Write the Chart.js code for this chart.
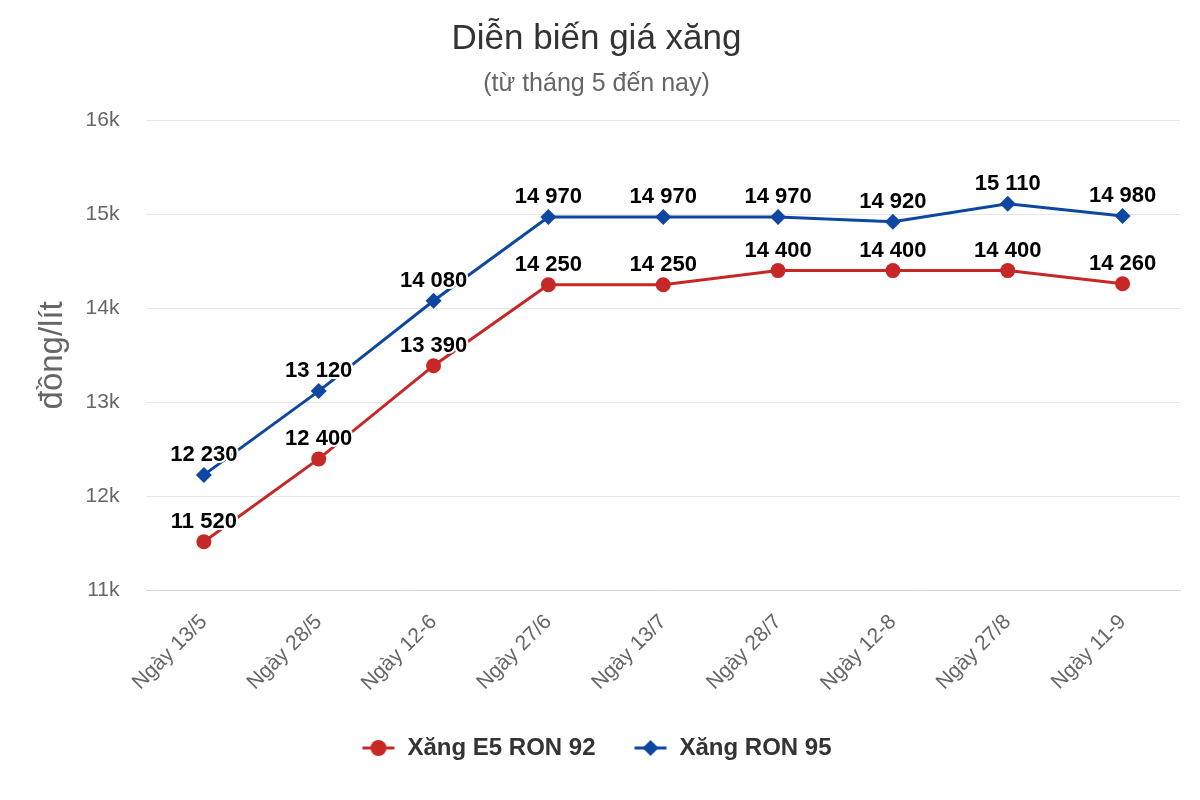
<!DOCTYPE html>
<html>
<head>
<meta charset="utf-8">
<script src="https://cdn.jsdelivr.net/npm/chart.js@4"></script>
<style>
  body { margin: 0; background: #fff; }
  #wrap { width: 1200px; height: 800px; }
</style>
</head>
<body>
<div id="wrap"><canvas id="chart" width="1200" height="800"></canvas></div>
<script>
var categories = ['Ngày 13/5', 'Ngày 28/5', 'Ngày 12-6', 'Ngày 27/6', 'Ngày 13/7', 'Ngày 28/7', 'Ngày 12-8', 'Ngày 27/8', 'Ngày 11-9'];
var e5Ron92 = [11520, 12400, 13390, 14250, 14250, 14400, 14400, 14400, 14260];
var ron95 = [12230, 13120, 14080, 14970, 14970, 14970, 14920, 15110, 14980];
var seriesNames = ['Xăng E5 RON 92', 'Xăng RON 95'];
var yTicks = [11000, 12000, 13000, 14000, 15000, 16000];

var FONT = "'Liberation Sans', Arial, sans-serif";
var RED = '#c62828';
var BLUE = '#0d47a1';

function fmt(v) {
    return String(v).replace(/\B(?=(\d{3})+(?!\d))/g, ' ');
}

// legend icon: short line with the marker in the middle
function legendIcon(color, shape) {
    var c = document.createElement('canvas');
    c.width = 34; c.height = 18;
    var g = c.getContext('2d');
    g.strokeStyle = color;
    g.lineWidth = 3;
    g.beginPath(); g.moveTo(1, 9); g.lineTo(33, 9); g.stroke();
    g.fillStyle = color;
    g.beginPath();
    if (shape === 'circle') {
        g.arc(17, 9, 8, 0, Math.PI * 2);
    } else {
        g.moveTo(17, 1); g.lineTo(25, 9); g.lineTo(17, 17); g.lineTo(9, 9); g.closePath();
    }
    g.fill();
    return c;
}

var valueLabels = {
    id: 'valueLabels',
    afterDatasetsDraw: function (chart) {
        var ctx = chart.ctx;
        ctx.save();
        ctx.font = 'bold 22px ' + FONT;
        ctx.textAlign = 'center';
        ctx.textBaseline = 'middle';
        ctx.lineJoin = 'round';
        chart.data.datasets.forEach(function (ds, i) {
            var meta = chart.getDatasetMeta(i);
            meta.data.forEach(function (pt, j) {
                var txt = fmt(ds.data[j]);
                ctx.strokeStyle = '#fff';
                ctx.lineWidth = 4;
                ctx.strokeText(txt, pt.x, pt.y - 20);
                ctx.fillStyle = '#000';
                ctx.fillText(txt, pt.x, pt.y - 20);
            });
        });
        ctx.restore();
    }
};

var ctx = document.getElementById('chart');
new Chart(ctx.getContext('2d'), {
    type: 'line',
    data: {
        labels: categories,
        datasets: [
            {
                label: seriesNames[0],
                data: e5Ron92,
                borderColor: RED,
                backgroundColor: RED,
                borderWidth: 3,
                pointStyle: 'circle',
                pointRadius: 7.5,
                pointHoverRadius: 7.5,
                pointBorderWidth: 0,
                tension: 0
            },
            {
                label: seriesNames[1],
                data: ron95,
                borderColor: BLUE,
                backgroundColor: BLUE,
                borderWidth: 3,
                pointStyle: 'rectRot',
                pointRadius: 8,
                pointHoverRadius: 8,
                pointBorderWidth: 0,
                tension: 0
            }
        ]
    },
    options: {
        responsive: false,
        animation: false,
        layout: { padding: { left: 13, right: 20, top: 10, bottom: 30 } },
        plugins: {
            title: {
                display: true,
                text: 'Diễn biến giá xăng',
                color: '#333',
                font: { family: FONT, size: 35, weight: 'normal' },
                padding: { top: 8, bottom: 9 }
            },
            subtitle: {
                display: true,
                text: '(từ tháng 5 đến nay)',
                color: '#666',
                font: { family: FONT, size: 25, weight: 'normal' },
                padding: { bottom: 21 }
            },
            legend: {
                position: 'bottom',
                labels: {
                    color: '#333',
                    font: { family: FONT, size: 24, weight: 'bold' },
                    usePointStyle: true,
                    pointStyleWidth: 34,
                    padding: 38,
                    generateLabels: function (chart) {
                        return chart.data.datasets.map(function (ds, i) {
                            return {
                                text: ds.label,
                                pointStyle: legendIcon(ds.borderColor, i === 0 ? 'circle' : 'diamond'),
                                fillStyle: ds.borderColor,
                                strokeStyle: ds.borderColor,
                                lineWidth: 0,
                                fontColor: '#333',
                                datasetIndex: i
                            };
                        });
                    }
                }
            },
            tooltip: { enabled: false }
        },
        scales: {
            x: {
                offset: true,
                grid: { display: false, drawTicks: false },
                border: { display: true, color: '#ccd6eb', width: 1 },
                ticks: {
                    color: '#666',
                    font: { family: FONT, size: 21 },
                    maxRotation: 45,
                    minRotation: 45,
                    padding: 19
                },
                afterFit: function (scale) {
                    scale.height -= 17;
                }
            },
            y: {
                min: yTicks[0],
                max: yTicks[yTicks.length - 1],
                afterBuildTicks: function (axis) {
                    axis.ticks = yTicks.map(function (v) { return { value: v }; });
                },
                grid: { color: '#e6e6e6', lineWidth: 1, drawTicks: false },
                border: { display: false },
                ticks: {
                    color: '#666',
                    font: { family: FONT, size: 21 },
                    padding: 27,
                    callback: function (v) { return (v / 1000) + 'k'; }
                },
                title: {
                    display: true,
                    text: 'đồng/lít',
                    color: '#666',
                    font: { family: FONT, size: 33 },
                    padding: { top: 20, bottom: -14 }
                }
            }
        }
    },
    plugins: [valueLabels]
});
</script>
</body>
</html>
